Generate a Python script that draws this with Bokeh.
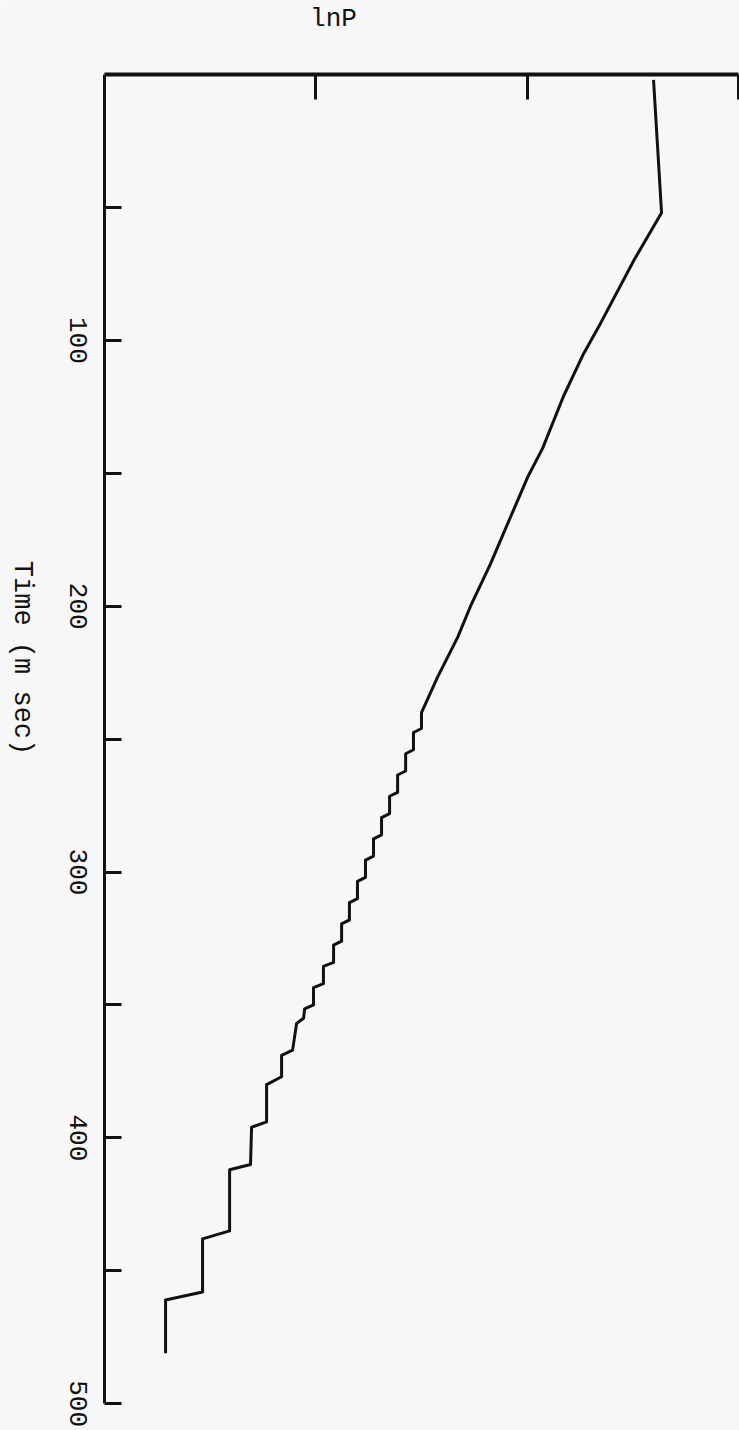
import math
from bokeh.plotting import figure
from bokeh.models import Range1d, FixedTicker, LinearAxis, Label
from bokeh.embed import file_html
from bokeh.resources import INLINE

# Data (time in ms, lnP in arbitrary tick units)
time_ms = [2, 52, 70, 93.6, 105, 121, 140.6, 151.5, 166.5, 184, 200, 211.7, 226.7,
           240, 246, 247.5, 254, 255.5, 262, 263.5, 270, 271.5, 278, 279.5, 286,
           287.5, 294, 295.5, 302, 303.5, 310, 311.5, 318, 319.5, 326, 327.5, 334,
           335.5, 342, 343.5, 350, 351.5, 355, 357, 367, 369, 377, 380, 394, 396,
           410, 412, 435, 438, 458, 461, 481]
lnP = [2.598, 2.636, 2.504, 2.347, 2.267, 2.172, 2.073, 2.002, 1.921, 1.827, 1.732, 1.671, 1.576,
       1.500, 1.500, 1.462, 1.462, 1.425, 1.425, 1.387, 1.387, 1.349, 1.349, 1.311, 1.311,
       1.273, 1.273, 1.235, 1.235, 1.197, 1.197, 1.159, 1.159, 1.122, 1.122, 1.084, 1.084,
       1.036, 1.036, 0.989, 0.989, 0.947, 0.942, 0.909, 0.890, 0.838, 0.838, 0.767, 0.767, 0.696,
       0.691, 0.592, 0.592, 0.464, 0.464, 0.289, 0.289]

time_ticks = [50, 100, 150, 200, 250, 300, 350, 400, 450, 500]
time_labels = [100, 200, 300, 400, 500]
lnp_ticks = [1, 2, 3]

BG = "#f7f7f7"
INK = "#111111"
FONT = "Liberation Mono"
LABEL_SHIFT = 8.8   # ms: half a label length, so rotated labels centre on ticks

# view ranges: lnP 0 sits 104 px from the left, t = 0 sits 74 px from the top
X_VIEW = (-0.4921, 3.0048)
T_VIEW = (510.1, -27.88)

p = figure(frame_width=739, frame_height=1430,
           min_border_left=0, min_border_right=0, min_border_top=0, min_border_bottom=0,
           x_range=Range1d(*X_VIEW), y_range=Range1d(*T_VIEW),
           x_axis_location=None, y_axis_location=None,
           output_backend="svg", toolbar_location=None,
           background_fill_color=BG, border_fill_color=BG)
p.outline_line_color = None
p.grid.visible = False
p.title.visible = False

# top (lnP) axis at t = 0: inward ticks, no tick labels
xa = LinearAxis(fixed_location=0, ticker=FixedTicker(ticks=lnp_ticks), bounds=(0, 3))
xa.major_label_overrides = {t: "" for t in lnp_ticks}
xa.major_label_standoff = 0
xa.major_tick_in = 25
xa.major_tick_out = 0
xa.minor_tick_line_color = None
xa.axis_line_width = 4
xa.major_tick_line_width = 3
xa.axis_line_color = INK
xa.major_tick_line_color = INK
p.add_layout(xa, "above")

# left (time) axis at lnP = 0: line and inward ticks
ya = LinearAxis(fixed_location=0, ticker=FixedTicker(ticks=time_ticks), bounds=(0, 500))
ya.major_label_overrides = {t: "" for t in time_ticks}
ya.major_label_standoff = 0
ya.major_tick_in = 17
ya.major_tick_out = 0
ya.minor_tick_line_color = None
ya.axis_line_width = 3
ya.major_tick_line_width = 3
ya.axis_line_color = INK
ya.major_tick_line_color = INK
p.add_layout(ya, "left")

# rotated time tick labels (range shifted by half a label so they centre on the ticks)
p.extra_y_ranges = {"labels": Range1d(T_VIEW[0] - LABEL_SHIFT, T_VIEW[1] - LABEL_SHIFT)}
la = LinearAxis(fixed_location=0, y_range_name="labels", ticker=FixedTicker(ticks=time_labels))
la.axis_line_color = None
la.major_tick_line_color = None
la.minor_tick_line_color = None
la.major_tick_in = 0
la.major_tick_out = 0
la.major_label_orientation = -math.pi / 2
la.major_label_text_font = FONT
la.major_label_text_font_size = "26px"
la.major_label_text_color = INK
la.major_label_standoff = 26
p.add_layout(la, "left")

p.line(lnP, time_ms, line_color=INK, line_width=3, line_join="round")

p.add_layout(Label(x=1.0836, y=-21.0, text="lnP", text_font=FONT, text_font_size="26px",
                   text_align="center", text_baseline="middle", text_color=INK))
p.add_layout(Label(x=-0.388, y=219.5, text="Time (m sec)", angle=-math.pi / 2,
                   text_font=FONT, text_font_size="27px",
                   text_align="center", text_baseline="middle", text_color=INK))

open("out.html", "w").write(file_html(p, INLINE))
